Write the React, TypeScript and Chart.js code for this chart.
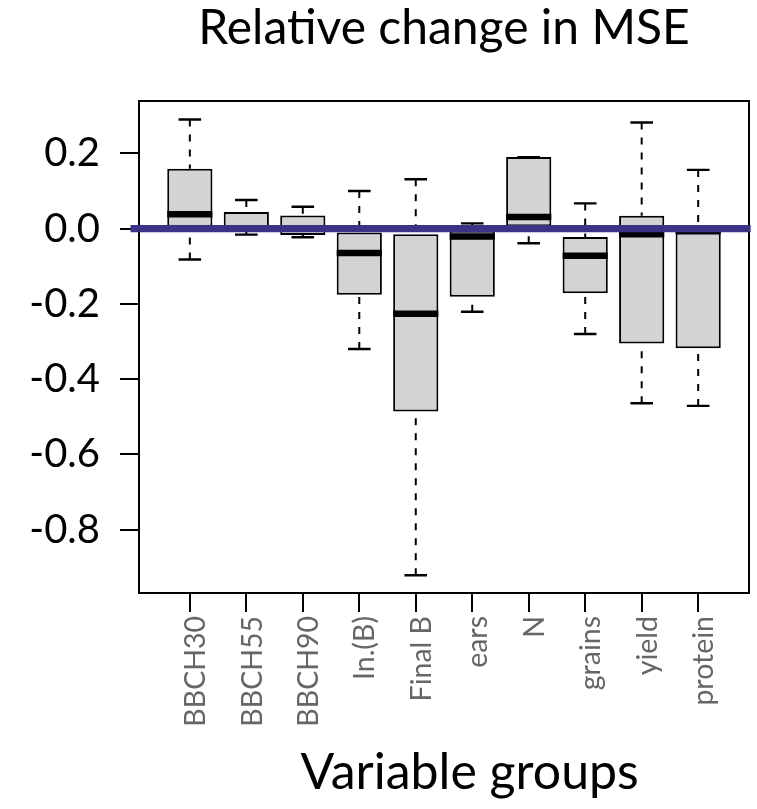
import React, { useEffect, useRef } from 'react';
import { Chart, registerables } from 'chart.js';

Chart.register(...registerables);

const categories = ['BBCH30', 'BBCH55', 'BBCH90', 'In.(B)', 'Final B', 'ears', 'N', 'grains', 'yield', 'protein'];
const whiskerLow = [-0.082, -0.016, -0.023, -0.32, -0.921, -0.221, -0.039, -0.28, -0.464, -0.471];
const lowerQuartile = [0.005, -0.006, -0.017, -0.176, -0.486, -0.181, 0.006, -0.172, -0.305, -0.318];
const median = [0.038, 0.0, 0.0, -0.065, -0.226, -0.021, 0.031, -0.072, -0.015, -0.007];
const upperQuartile = [0.159, 0.044, 0.035, -0.01, -0.015, -0.006, 0.19, -0.022, 0.034, -0.007];
const whiskerHigh = [0.29, 0.076, 0.058, 0.1, 0.131, 0.014, 0.19, 0.067, 0.282, 0.156];
const yTicks = [-0.8, -0.6, -0.4, -0.2, 0.0, 0.2];
const referenceLevel = 0;

const FONT = "Lato, 'Open Sans', sans-serif";
const X_MIN = 0.1;
const X_MAX = 10.9;
const Y_MIN = -0.968;
const Y_MAX = 0.339;
const BOX_HALF = 0.4;
const CAP_HALF = 0.2;

const framePlugin = {
  id: 'frame',
  beforeDatasetsDraw(chart: any) {
    const { ctx, chartArea: a } = chart;
    ctx.save();
    ctx.strokeStyle = '#000';
    ctx.lineWidth = 2;
    ctx.strokeRect(a.left, a.top, a.right - a.left, a.bottom - a.top);
    ctx.restore();
  },
};

export default function App() {
  const ref = useRef<HTMLCanvasElement>(null);

  useEffect(() => {
    if (!ref.current) return;
    const positions = categories.map((_, i) => i + 1);

    const boxData = positions.map((x, i) => ({ x, y: [lowerQuartile[i], upperQuartile[i]] }));

    const whiskerData: any[] = [];
    const capData: any[] = [];
    const medianData: any[] = [];
    positions.forEach((x, i) => {
      whiskerData.push({ x, y: whiskerHigh[i] }, { x, y: upperQuartile[i] }, { x, y: null });
      whiskerData.push({ x, y: whiskerLow[i] }, { x, y: lowerQuartile[i] }, { x, y: null });
      capData.push({ x: x - CAP_HALF, y: whiskerHigh[i] }, { x: x + CAP_HALF, y: whiskerHigh[i] }, { x, y: null });
      capData.push({ x: x - CAP_HALF, y: whiskerLow[i] }, { x: x + CAP_HALF, y: whiskerLow[i] }, { x, y: null });
      medianData.push({ x: x - BOX_HALF, y: median[i] }, { x: x + BOX_HALF, y: median[i] }, { x, y: null });
    });

    const zeroData = [
      { x: X_MIN - 0.15, y: referenceLevel },
      { x: X_MAX + 0.03, y: referenceLevel },
    ];

    const common = { xAxisID: 'x', yAxisID: 'y' };

    const chart = new Chart(ref.current, {
      type: 'bar',
      data: {
        datasets: [
          {
            ...common,
            type: 'line',
            data: zeroData,
            borderColor: '#3a3486',
            borderWidth: 7.4,
            pointRadius: 0,
            borderCapStyle: 'butt',
            clip: false,
          } as any,
          {
            ...common,
            type: 'line',
            data: medianData,
            borderColor: '#000',
            borderWidth: 6.5,
            pointRadius: 0,
            borderCapStyle: 'butt',
            spanGaps: false,
          } as any,
          {
            ...common,
            type: 'line',
            data: capData,
            borderColor: '#000',
            borderWidth: 2.4,
            pointRadius: 0,
            borderCapStyle: 'butt',
            spanGaps: false,
          } as any,
          {
            ...common,
            type: 'line',
            data: whiskerData,
            borderColor: '#000',
            borderWidth: 2,
            borderDash: [7, 8],
            pointRadius: 0,
            borderCapStyle: 'butt',
            spanGaps: false,
          } as any,
          {
            ...common,
            type: 'bar',
            data: boxData,
            backgroundColor: '#d3d3d3',
            borderColor: '#000',
            borderWidth: 2,
            borderSkipped: false,
            barPercentage: 0.8,
            categoryPercentage: 1,
          } as any,
        ],
      },
      options: {
        responsive: false,
        animation: false,
        devicePixelRatio: 1,
        events: [],
        layout: { padding: { left: 0, right: 8, top: 0, bottom: 0 } },
        plugins: {
          legend: { display: false },
          tooltip: { enabled: false },
          title: { display: false },
        },
        scales: {
          x: {
            type: 'linear',
            position: 'bottom',
            min: X_MIN,
            max: X_MAX,
            offset: false,
            afterBuildTicks: (s: any) => {
              s.ticks = positions.map((v) => ({ value: v }));
            },
            afterFit: (s: any) => {
              s.height = 216;
            },
            ticks: {
              autoSkip: false,
              minRotation: 90,
              maxRotation: 90,
              padding: 4,
              labelOffset: 6,
              color: '#666666',
              font: { family: FONT, size: 28.5 },
              callback: (v: any) => categories[Math.round(Number(v)) - 1] ?? '',
            },
            grid: {
              display: true,
              drawOnChartArea: false,
              drawTicks: true,
              tickLength: 19,
              color: '#000',
              lineWidth: 2,
              offset: false,
            },
            border: { display: false },
            title: {
              display: true,
              text: '    Variable groups',
              color: '#000',
              font: { family: FONT, size: 50, lineHeight: 1.2 },
              padding: { top: 0, bottom: 6 },
            },
          },
          xTop: {
            type: 'linear',
            position: 'top',
            axis: 'x',
            min: 0,
            max: 1,
            afterFit: (s: any) => {
              s.height = 101;
            },
            ticks: { display: false },
            grid: { display: false, drawTicks: false },
            border: { display: false },
            title: {
              display: true,
              text: 'Relative change in MSE',
              color: '#000',
              font: { family: FONT, size: 48, weight: 'normal', lineHeight: 1.2 },
              padding: { top: 0, bottom: 0 },
            },
          },
          y: {
            type: 'linear',
            min: Y_MIN,
            max: Y_MAX,
            afterBuildTicks: (s: any) => {
              s.ticks = yTicks.map((v) => ({ value: v }));
            },
            afterFit: (s: any) => {
              s.width = 139;
            },
            ticks: {
              padding: 20,
              color: '#000',
              font: { family: FONT, size: 40 },
              callback: (v: any) => Number(v).toFixed(1),
            },
            grid: {
              display: true,
              drawOnChartArea: false,
              drawTicks: true,
              tickLength: 19,
              color: '#000',
              lineWidth: 2,
            },
            border: { display: false },
          },
        },
      } as any,
      plugins: [framePlugin],
    });

    return () => chart.destroy();
  }, []);

  return (
    <div style={{ position: 'absolute', left: 0, top: 0, width: 757, height: 809, background: '#fff' }}>
      <canvas ref={ref} width={757} height={809} style={{ display: 'block', width: 757, height: 809 }} />
    </div>
  );
}
